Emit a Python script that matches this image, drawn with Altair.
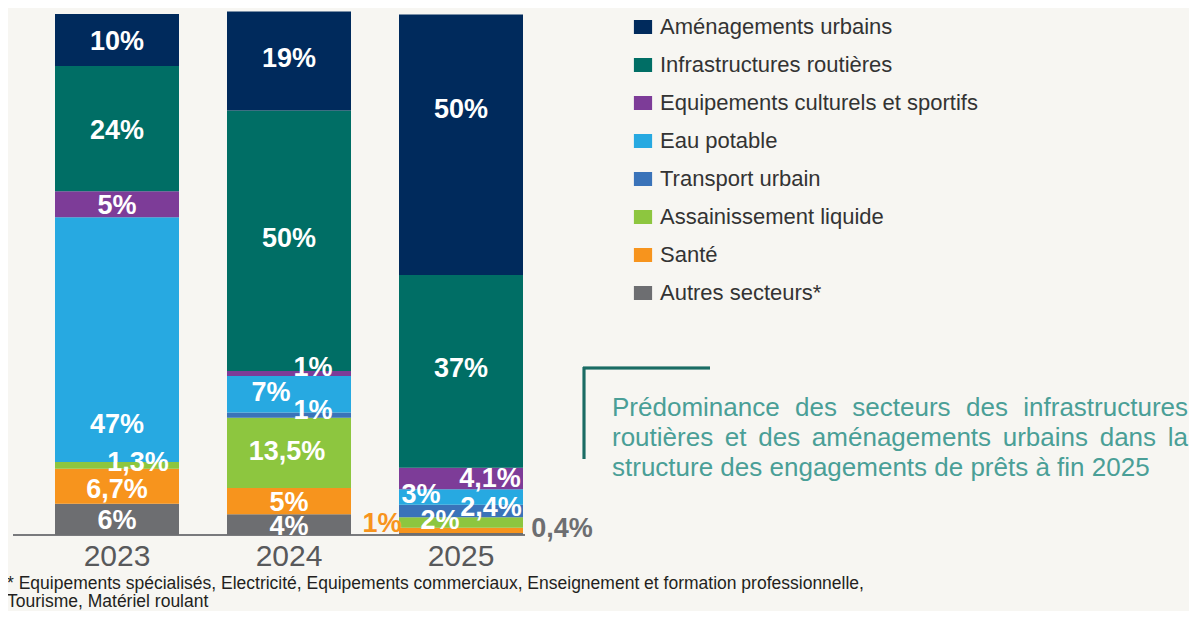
import altair as alt
import pandas as pd

years = ["2023", "2024", "2025"]
sectors = [
    "Aménagements urbains",
    "Infrastructures routières",
    "Equipements culturels et sportifs",
    "Eau potable",
    "Transport urbain",
    "Assainissement liquide",
    "Santé",
    "Autres secteurs*",
]
colors = ["#002a5c", "#006e65", "#7d3c98", "#27a9e1", "#3a73b9", "#8dc63f", "#f7941d", "#6d6e71"]
share_2023 = [10, 24, 5, 47, 0, 1.3, 6.7, 6]
share_2024 = [19, 50, 1, 7, 1, 13.5, 5, 4]
share_2025 = [50, 37, 4.1, 3, 2.4, 2, 1, 0.4]
footnote = [
    "* Equipements spécialisés, Electricité, Equipements commerciaux, Enseignement et formation professionnelle,",
    "Tourisme, Matériel roulant",
]
note_lines = [
    "Prédominance des secteurs des infrastructures",
    "routières et des aménagements urbains dans la",
    "structure des engagements de prêts à fin 2025",
]

# label placement tweaks (pixels): (dx, dy, colour)
PX_X = 172.0
PX_Y = 5.21
tweak = {
    ("2023", "Aménagements urbains"): (0, 2, "white"),
    ("2023", "Infrastructures routières"): (0, 2, "white"),
    ("2023", "Equipements culturels et sportifs"): (0, 2, "white"),
    ("2023", "Eau potable"): (0, 85, "white"),
    ("2023", "Assainissement liquide"): (21, -2, "white"),
    ("2023", "Santé"): (0, 4, "white"),
    ("2023", "Autres secteurs*"): (0, 2, "white"),
    ("2024", "Aménagements urbains"): (0, -2, "white"),
    ("2024", "Infrastructures routières"): (0, -2, "white"),
    ("2024", "Equipements culturels et sportifs"): (24, -5, "white"),
    ("2024", "Eau potable"): (-18, -1, "white"),
    ("2024", "Transport urbain"): (24, -4, "white"),
    ("2024", "Assainissement liquide"): (-2, -1, "white"),
    ("2024", "Santé"): (0, 2, "white"),
    ("2024", "Autres secteurs*"): (0, 2, "white"),
    ("2025", "Aménagements urbains"): (0, -35, "white"),
    ("2025", "Infrastructures routières"): (0, -2, "white"),
    ("2025", "Equipements culturels et sportifs"): (29, 1, "white"),
    ("2025", "Eau potable"): (-40, -2, "white"),
    ("2025", "Transport urbain"): (30, -3, "white"),
    ("2025", "Assainissement liquide"): (-21, -1, "white"),
    ("2025", "Santé"): (-79, -6, "#f7941d"),
    ("2025", "Autres secteurs*"): (101, -5, "#6d6e71"),
}


def fmt(v):
    return ("%g" % v).replace(".", ",") + "%"


rows = []
labels = []
for xi, (yr, vals) in enumerate(zip(years, [share_2023, share_2024, share_2025])):
    base = 0.0
    for k in range(len(sectors) - 1, -1, -1):
        v = vals[k]
        if v <= 0:
            continue
        rows.append(dict(year=yr, xi=xi, sector=sectors[k], y0=base, y1=base + v))
        dx, dy, col = tweak[(yr, sectors[k])]
        labels.append(dict(year=yr, sector=sectors[k], lx=xi + dx / PX_X,
                           ly=base + v / 2 - dy / PX_Y, txt=fmt(v), col=col))
        base += v

bars_df = pd.DataFrame(rows)
lab_df = pd.DataFrame(labels)
year_df = pd.DataFrame(dict(year=years, xi=[0, 1, 2]))

# approximate Helvetica/Arial advance widths (per 1000 em) for justified note text
AW = {" ": 278, "a": 556, "b": 556, "c": 500, "d": 556, "e": 556, "f": 278, "g": 556,
      "h": 556, "i": 222, "l": 222, "m": 833, "n": 556, "o": 556, "p": 556, "r": 333,
      "s": 500, "t": 278, "u": 556, "v": 500, "x": 500, "y": 500, "é": 556, "è": 556,
      "ê": 556, "à": 556, "P": 667, "0": 556, "2": 556, "5": 556}
NOTE_FS = 26
NOTE_L, NOTE_R = 604, 1180


def wwidth(w):
    return sum(AW.get(c, 556) for c in w) * NOTE_FS / 1000.0


note_words = []
for li, line in enumerate(note_lines):
    words = line.split(" ")
    yy = 400 + 30 * li
    if li < len(note_lines) - 1:
        total = sum(wwidth(w) for w in words)
        gap = (NOTE_R - NOTE_L - total) / (len(words) - 1)
    else:
        gap = wwidth(" ")
    x = NOTE_L
    for w in words:
        note_words.append(dict(t=w, xx=x, yy=yy))
        x += wwidth(w) + gap
note_df = pd.DataFrame(note_words)

FONT = "Liberation Sans"
xs = alt.Scale(domain=[0, 2], range=[109, 453], padding=0)
ys = alt.Scale(domain=[0, 100], range=[527, 6])

bars = alt.Chart(bars_df).mark_bar(size=124).encode(
    x=alt.X("xi:Q", scale=xs, axis=None),
    y=alt.Y("y0:Q", scale=ys, axis=None),
    y2="y1:Q",
    color=alt.Color(
        "sector:N",
        scale=alt.Scale(domain=sectors, range=colors),
        legend=alt.Legend(
            orient="none", legendX=624, legendY=8, title=None,
            symbolType="M-1.3,-1H1.3V1H-1.3Z", symbolSize=196, symbolStrokeWidth=0,
            symbolOpacity=1, labelFontSize=22, labelFont=FONT, labelColor="#333333",
            rowPadding=16, labelOffset=6, padding=0, labelLimit=500,
        ),
    ),
)

baseline = alt.Chart(year_df).mark_rule(color="#77787b", strokeWidth=1.5).encode(
    x=alt.value(5), x2=alt.value(517), y=alt.value(527)
)

text = alt.Chart(lab_df).mark_text(font=FONT, fontSize=27, fontWeight="bold", baseline="middle").encode(
    x=alt.X("lx:Q", scale=xs),
    y=alt.Y("ly:Q", scale=ys),
    text="txt:N",
    color=alt.Color("col:N", scale=None),
)

year_text = alt.Chart(year_df).mark_text(font=FONT, fontSize=30, color="#58595b", baseline="middle").encode(
    x=alt.X("xi:Q", scale=xs), y=alt.value(549), text="year:N"
)

foot_df = pd.DataFrame(dict(t=footnote, yy=[581, 599]))
foot = alt.Chart(foot_df).mark_text(font=FONT, fontSize=17.5, color="#231f20",
                                    align="left", baseline="alphabetic").encode(
    x=alt.value(-1), y=alt.Y("yy:Q", scale=None), text="t:N"
)

note = alt.Chart(note_df).mark_text(font=FONT, fontSize=NOTE_FS, color="#4a9f97",
                                    align="left", baseline="middle").encode(
    x=alt.X("xx:Q", scale=None), y=alt.Y("yy:Q", scale=None), text="t:N"
)

vline = alt.Chart(year_df).mark_rule(color="#1b6c64", strokeWidth=2.5).encode(
    x=alt.value(576), y=alt.value(359), y2=alt.value(451)
)
hline = alt.Chart(year_df).mark_rule(color="#1b6c64", strokeWidth=2.5).encode(
    x=alt.value(575), x2=alt.value(702), y=alt.value(360)
)

chart = alt.layer(baseline, bars, text, year_text, foot, note, vline, hline).properties(
    width=1181, height=603, background="#f7f6f2", padding=0,
    autosize=alt.AutoSizeParams(type="none"),
).configure_view(stroke=None)

chart.save("out.html", embed_options={"renderer": "svg", "actions": False})
